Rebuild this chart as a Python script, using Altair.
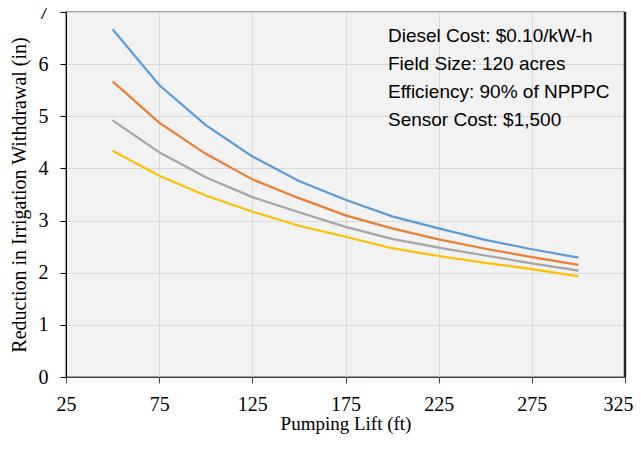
import altair as alt
import pandas as pd

lift = [50, 75, 100, 125, 150, 175, 200, 225, 250, 275, 300]
series_names = ["Series A", "Series B", "Series C", "Series D"]
blue = [6.67, 5.60, 4.83, 4.23, 3.76, 3.40, 3.08, 2.85, 2.63, 2.45, 2.29]
orange = [5.67, 4.88, 4.28, 3.79, 3.43, 3.10, 2.85, 2.64, 2.46, 2.30, 2.15]
gray = [4.92, 4.31, 3.83, 3.45, 3.16, 2.88, 2.65, 2.48, 2.33, 2.18, 2.04]
yellow = [4.34, 3.86, 3.48, 3.17, 2.90, 2.69, 2.47, 2.32, 2.19, 2.07, 1.93]
colors = ["#5B9BD5", "#ED7D31", "#A5A5A5", "#FFC000"]
x_ticks = [25, 75, 125, 175, 225, 275, 325]
y_ticks = [0, 1, 2, 3, 4, 5, 6, 7]
note_lines = ["Diesel Cost: $0.10/kW-h", "Field Size: 120 acres",
              "Efficiency: 90% of NPPPC", "Sensor Cost: $1,500"]

rows = []
for name, vals in zip(series_names, [blue, orange, gray, yellow]):
    for x, v in zip(lift, vals):
        rows.append({"lift": x, "value": v, "series": name})
df = pd.DataFrame(rows)

W, H = 559, 365

lines = alt.Chart(df).mark_line(strokeWidth=2.2).encode(
    x=alt.X("lift:Q", scale=alt.Scale(domain=[25, 325], nice=False),
            axis=alt.Axis(values=x_ticks, title="Pumping Lift (ft)", grid=True,
                          gridColor="#D9D9D9", gridWidth=1,
                          domainColor="#404040", tickColor="#404040", tickSize=6,
                          labelPadding=11, labelFont="Liberation Serif", labelFontSize=20,
                          labelColor="#000000", titleFont="Liberation Serif",
                          titleFontSize=19, titleFontWeight="normal", titleColor="#000000",
                          titlePadding=0, labelFlush=False,
                          labelAlign=alt.condition("datum.value == 325",
                                                   alt.value("right"), alt.value("center")),
                          labelOffset=alt.condition("datum.value == 325",
                                                    alt.value(8), alt.value(0)))),
    y=alt.Y("value:Q", scale=alt.Scale(domain=[0, 7], nice=False),
            axis=alt.Axis(values=y_ticks, title="Reduction in Irrigation Withdrawal (in)",
                          grid=True, gridColor="#D9D9D9", gridWidth=1,
                          domainColor="#000000", tickColor="#000000", tickSize=6,
                          labelPadding=12, labelFont="Liberation Serif", labelFontSize=20,
                          labelColor="#000000", titleFont="Liberation Serif",
                          titleFontSize=20, titleFontWeight="normal", titleColor="#000000",
                          titlePadding=9, labelFlush=False)),
    color=alt.Color("series:N", scale=alt.Scale(domain=series_names, range=colors), legend=None),
)

note = alt.Chart(pd.DataFrame({"a": [0]})).mark_text(
    text=note_lines, align="left", baseline="alphabetic", font="Liberation Sans",
    fontSize=19, lineHeight=28, color="#000000"
).encode(x=alt.value(322), y=alt.value(30))

right_border = alt.Chart(pd.DataFrame({"a": [0]})).mark_rule(
    color="#262626", strokeWidth=2.5
).encode(x=alt.value(W), y=alt.value(0), y2=alt.value(H))

chart = alt.layer(lines, note, right_border).properties(
    width=W, height=H,
    autosize=alt.AutoSizeParams(type="none"),
    padding={"left": 58, "top": 4, "right": 8, "bottom": 60},
).configure_view(fill="#F2F2F2", stroke="#808080", strokeWidth=1.5)

chart.save("out.html", embed_options={"renderer": "svg", "actions": False})
